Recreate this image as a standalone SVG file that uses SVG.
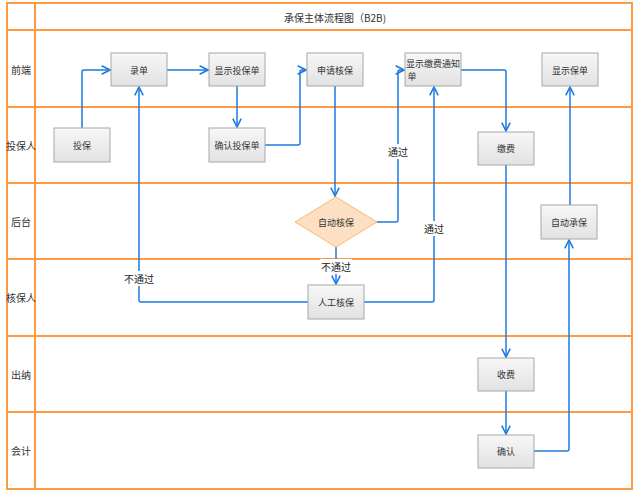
<svg xmlns="http://www.w3.org/2000/svg" width="640" height="492" viewBox="0 0 640 492">
<defs>
<linearGradient id="g" x1="0" y1="0" x2="0" y2="1"><stop offset="0" stop-color="#f7f7f7"/><stop offset="1" stop-color="#e2e2e2"/></linearGradient>
<marker id="a" viewBox="0 0 10 10" refX="9" refY="5" markerWidth="7" markerHeight="7" orient="auto"><path d="M1,1 L9,5 L1,9" fill="none" stroke="#1e7ae0" stroke-width="1.5"/></marker>
<style>
text{font-family:"Noto Sans CJK SC","Liberation Sans",sans-serif;font-size:9px;fill:#333;text-anchor:middle;dominant-baseline:central}
.h{font-size:10px}
.b{fill:url(#g);stroke:#a8a8a8;stroke-width:1}
.l{stroke:#ff9a40;stroke-width:2;fill:none}
.c path{fill:none;stroke:#1e7ae0;stroke-width:1.5;marker-end:url(#a)}
.lab{font-size:10px;fill:#222}
</style>
</defs>
<rect width="640" height="492" fill="#fff"/>
<g id="lanes">
<rect x="7" y="3" width="625" height="486" class="l"/>
<line x1="35" y1="3" x2="35" y2="489" class="l"/>
<line x1="7" y1="30" x2="632" y2="30" class="l"/>
<line x1="7" y1="107" x2="632" y2="107" class="l"/>
<line x1="7" y1="183" x2="632" y2="183" class="l"/>
<line x1="7" y1="259" x2="632" y2="259" class="l"/>
<line x1="7" y1="336" x2="632" y2="336" class="l"/>
<line x1="7" y1="412" x2="632" y2="412" class="l"/>
<text class="h" x="335" y="17">承保主体流程图（B2B)</text>
<text class="h" x="21" y="69">前端</text>
<text class="h" x="21" y="145">投保人</text>
<text class="h" x="21" y="221">后台</text>
<text class="h" x="21" y="297">核保人</text>
<text class="h" x="21" y="374">出纳</text>
<text class="h" x="21" y="450">会计</text>
</g>
<g class="c" id="connectors">
<path d="M82,128 V72 Q82,70 84,70 H110"/>
<path d="M167,70 H208"/>
<path d="M237,86 V127"/>
<path d="M265,145 H298 Q300,145 300,143 V72 Q300,70 302,70 H306"/>
<path d="M335,86 V196"/>
<path d="M377,222 H396 Q398,222 398,220 V72 Q398,70 400,70 H404"/>
<path d="M336,247 V284"/>
<path d="M308,302 H141 Q139,302 139,300 V87"/>
<path d="M364,302 H432 Q434,302 434,300 V87"/>
<path d="M461,70 H504 Q506,70 506,72 V131"/>
<path d="M506,165 V357"/>
<path d="M506,391 V434"/>
<path d="M534,451 H567 Q569,451 569,449 V240"/>
<path d="M570,205 V87"/>
</g>
<g id="labels">
<rect x="384" y="144" width="28" height="15" fill="#fff"/><text class="lab" x="398" y="151">通过</text>
<rect x="420" y="221" width="28" height="15" fill="#fff"/><text class="lab" x="434" y="228">通过</text>
<rect x="320" y="259" width="32" height="15" fill="#fff"/><text class="lab" x="336" y="266">不通过</text>
<rect x="123" y="271" width="32" height="15" fill="#fff"/><text class="lab" x="139" y="278">不通过</text>
</g>
<g id="n1"><rect class="b" x="54" y="128" width="56" height="34"/><text x="82" y="145">投保</text></g>
<g id="n2"><rect class="b" x="111" y="53" width="56" height="33"/><text x="139" y="70">录单</text></g>
<g id="n3"><rect class="b" x="209" y="53" width="56" height="33"/><text x="237" y="70">显示投保单</text></g>
<g id="n4"><rect class="b" x="209" y="128" width="56" height="34"/><text x="237" y="145">确认投保单</text></g>
<g id="n5"><rect class="b" x="307" y="53" width="56" height="33"/><text x="335" y="70">申请核保</text></g>
<g id="n6"><rect class="b" x="405" y="53" width="56" height="33"/><text x="433" y="63">显示缴费通知</text><text x="412" y="76">单</text></g>
<g id="n7"><rect class="b" x="542" y="53" width="56" height="33"/><text x="570" y="70">显示保单</text></g>
<g id="n8"><rect class="b" x="478" y="132" width="56" height="33"/><text x="506" y="148">缴费</text></g>
<g id="n9"><polygon points="336,197 377,222 336,247 295,222" fill="#fde0c4" stroke="#ffb870" stroke-width="1"/><text x="336" y="222">自动核保</text></g>
<g id="n10"><rect class="b" x="541" y="205" width="56" height="34"/><text x="569" y="222">自动承保</text></g>
<g id="n11"><rect class="b" x="308" y="285" width="56" height="34"/><text x="336" y="302">人工核保</text></g>
<g id="n12"><rect class="b" x="478" y="358" width="56" height="33"/><text x="506" y="374">收费</text></g>
<g id="n13"><rect class="b" x="478" y="435" width="56" height="33"/><text x="506" y="451">确认</text></g>
</svg>
